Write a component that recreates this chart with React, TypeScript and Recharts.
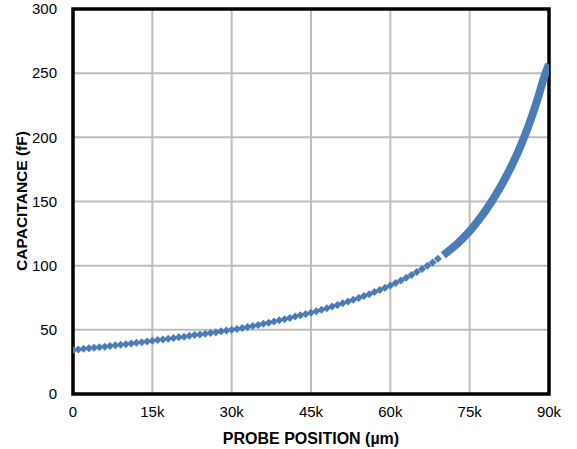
import {
  ComposedChart,
  Line,
  Scatter,
  XAxis,
  YAxis,
  CartesianGrid,
  ReferenceArea,
} from "recharts";

// probe position in thousands of µm
const positionsK = [
  0, 1, 2, 3, 4, 5, 6, 7, 8, 9,
  10, 11, 12, 13, 14, 15, 16, 17, 18, 19,
  20, 21, 22, 23, 24, 25, 26, 27, 28, 29,
  30, 31, 32, 33, 34, 35, 36, 37, 38, 39,
  40, 41, 42, 43, 44, 45, 46, 47, 48, 49,
  50, 51, 52, 53, 54, 55, 56, 57, 58, 59,
  60, 61, 62, 63, 64, 65, 66, 67, 68, 69,
  70, 71, 72, 73, 74, 75, 76, 77, 78, 79,
  80, 81, 82, 83, 84, 85, 86, 87, 88, 89,
  90,
];

// capacitance in fF
const capacitance = [
  34.3, 34.7, 35.2, 35.6, 36.0, 36.5, 36.9, 37.4, 37.9, 38.3,
  38.8, 39.3, 39.9, 40.4, 40.9, 41.5, 42.0, 42.5, 43.1, 43.6,
  44.2, 44.7, 45.3, 45.9, 46.4, 47.0, 47.6, 48.2, 48.8, 49.4,
  50.0, 50.7, 51.5, 52.2, 53.0, 53.8, 54.7, 55.6, 56.5, 57.4,
  58.3, 59.3, 60.3, 61.3, 62.4, 63.4, 64.5, 65.7, 66.9, 68.1,
  69.4, 70.7, 72.0, 73.4, 74.8, 76.3, 77.8, 79.4, 81.0, 82.7,
  84.5, 86.4, 88.4, 90.5, 92.7, 95.0, 97.4, 99.9, 102.5, 105.3,
  108.2, 111.3, 114.7, 118.4, 122.5, 127.0, 131.9, 137.2, 142.9, 149.0,
  155.6, 162.7, 170.3, 178.5, 187.4, 197.0, 207.6, 219.2, 231.9, 245.9,
  257.0,
];

const xTicks = [0, 15, 30, 45, 60, 75, 90];
const yTicks = [0, 50, 100, 150, 200, 250, 300];

// beyond this position the measured points sit so close they form a solid band
const denseFrom = 70;

const points = positionsK.map((x, i) => ({ x, y: capacitance[i] }));
const sparse = points.filter((p) => p.x < denseFrom);
const dense = points.filter((p) => p.x >= denseFrom);

const BLUE = "#4a7cb8";
const FONT = "'Liberation Sans', Arial, sans-serif";

const Diamond = (props: any) => {
  const { cx, cy } = props;
  if (cx == null || cy == null) return null;
  const r = 4;
  return (
    <polygon
      points={`${cx},${cy - r} ${cx + r},${cy} ${cx},${cy + r} ${cx - r},${cy}`}
      fill={BLUE}
    />
  );
};

export default function App() {
  return (
    <div style={{ position: "absolute", left: 0, top: 0, background: "#fff" }}>
      <ComposedChart
        width={577}
        height={449}
        margin={{ top: 9, right: 28, left: 0, bottom: 0 }}
      >
        <CartesianGrid stroke="#bdbdbd" strokeWidth={2} />
        <XAxis
          dataKey="x"
          type="number"
          domain={[0, 90]}
          ticks={xTicks}
          allowDataOverflow
          height={55}
          axisLine={false}
          tickLine={false}
          tickMargin={6}
          tickFormatter={(v: number) => (v === 0 ? "0" : `${v}k`)}
          tick={{ fill: "#000", fontSize: 15, fontFamily: FONT }}
          label={{
            value: "PROBE POSITION (µm)",
            position: "insideBottom",
            offset: 5,
            style: {
              fill: "#000",
              fontSize: 16,
              fontWeight: "bold",
              fontFamily: FONT,
            },
          }}
        />
        <YAxis
          dataKey="y"
          type="number"
          domain={[0, 300]}
          ticks={yTicks}
          width={73}
          axisLine={false}
          tickLine={false}
          tickMargin={10}
          tick={{ fill: "#000", fontSize: 15, fontFamily: FONT }}
          label={{
            content: () => (
              <text
                x={21}
                y={201}
                transform="rotate(-90 21 201)"
                textAnchor="middle"
                dominantBaseline="central"
                fill="#000"
                fontSize={15.5}
                fontWeight="bold"
                fontFamily={FONT}
              >
                CAPACITANCE (fF)
              </text>
            ),
          }}
        />
        <Scatter
          data={sparse}
          dataKey="y"
          shape={Diamond}
          isAnimationActive={false}
        />
        <Line
          data={dense}
          dataKey="y"
          type="monotone"
          stroke={BLUE}
          strokeWidth={8}
          dot={false}
          activeDot={false}
          isAnimationActive={false}
        />
        <ReferenceArea
          x1={0}
          x2={90}
          y1={0}
          y2={300}
          fill="none"
          stroke="#000"
          strokeWidth={3.5}
          fillOpacity={0}
        />
      </ComposedChart>
    </div>
  );
}
